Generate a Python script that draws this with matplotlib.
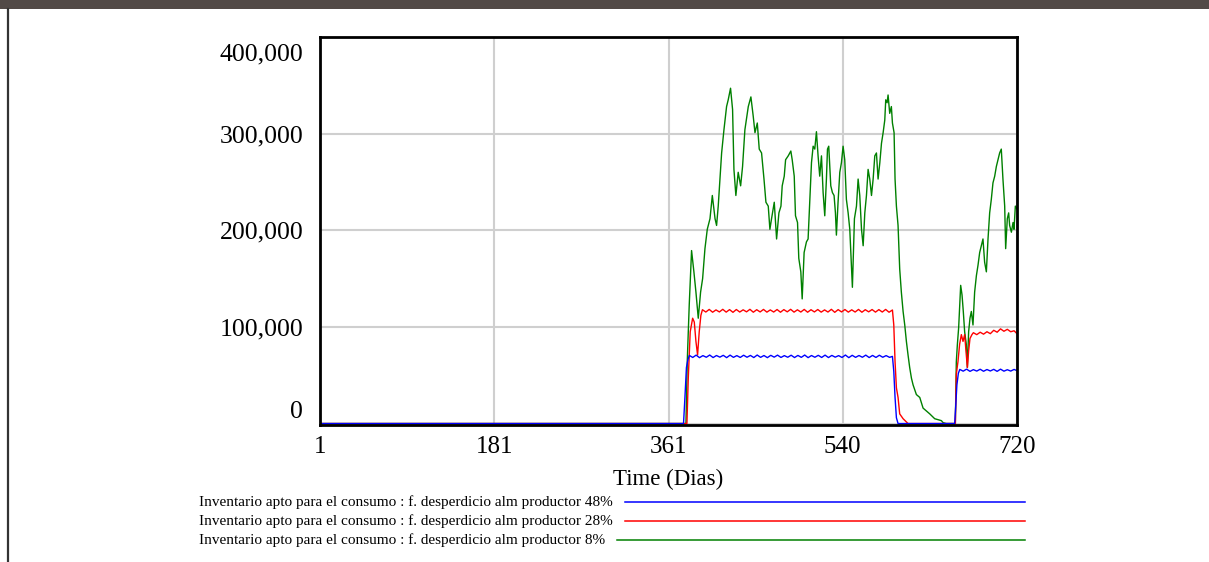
import numpy as np
import matplotlib
matplotlib.use("Agg")
import matplotlib.pyplot as plt
import matplotlib.transforms as mtransforms
from matplotlib.lines import Line2D
from matplotlib.patches import Rectangle

plt.rcParams['font.family'] = ['Liberation Serif', 'DejaVu Serif']

# --- data (day, units) ---
x_ticks = [1, 181, 361, 540, 720]
y_ticks = [0, 100000, 200000, 300000, 400000]
labels = ["Inventario apto para el consumo : f. desperdicio alm productor 48%",
          "Inventario apto para el consumo : f. desperdicio alm productor 28%",
          "Inventario apto para el consumo : f. desperdicio alm productor 8%"]
colors = ['#0000ff', '#ff0000', '#008000']

# 48% (blue)
blue_rise_days = [1, 376, 377.5, 379, 380.5]
blue_rise_vals = [0, 0, 28000, 58000, 66000]
blue_plat1 = [70500, 68400, 70800, 68200, 70300, 68600, 70900, 68300, 70400, 68700,
              70600, 68200, 70800, 68500, 70300, 68400, 70700, 68600, 70500, 68300,
              70900, 68500, 70400, 68200, 70600, 68700, 70800, 68400, 70300, 68600,
              70700, 68300, 70500, 68500, 70900, 68200, 70400, 68600, 70600, 68400,
              70800, 68300, 70500, 68700, 70300, 68400, 70900, 68200, 70600, 68500,
              70400, 68600, 70800, 68300, 70500, 68400, 70700, 68600, 70300, 68500]
blue_drop_days = [591.5, 592.9, 594.2, 595.6, 597.3, 655.7, 656.5, 658.0, 659.5]
blue_drop_vals = [69500, 54000, 27000, 6000, 0, 0, 13000, 40000, 52000]
blue_plat2 = [56000, 54200, 56300, 54000, 55800, 54300, 56200, 54100, 55900,
              54400, 56100, 54000, 56300, 54200, 55700, 54300, 56000, 54500]

# 28% (red)
red_rise_days = [1, 379.5, 380.9, 382.9, 385.4, 387.1, 388.8, 390.5, 392.2, 393.9]
red_rise_vals = [0, 0, 47000, 95000, 109000, 105000, 85000, 71000, 95000, 112000]
red_plat1 = [117800, 115400, 118100, 115200, 117600, 115500, 118200, 115300, 117900, 115100,
             118000, 115400, 117700, 115600, 118200, 115200, 117800, 115500, 118100, 115300,
             117600, 115400, 118000, 115200, 117900, 115600, 118200, 115300, 117700, 115400,
             118100, 115200, 117800, 115500, 118000, 115300, 117600, 115400, 118200, 115100,
             117900, 115500, 118000, 115300, 117700, 115400, 118100, 115200, 117800, 115600,
             118000, 115300, 117900, 115400, 118100, 115200, 117500]
red_drop_days = [592.9, 594.2, 595.6, 597.3, 599.0, 602.5, 607.6, 656.4, 657.4, 659.1,
                 660.8, 662.6, 664.3, 666.0, 667.7, 668.8, 670.1, 671.5, 673.5]
red_drop_vals = [102000, 64000, 37000, 27000, 10000, 5000, 0, 0, 51000, 64000,
                 82000, 92000, 85000, 92000, 71000, 58000, 75000, 88000, 92000]
red_plat2 = [94000, 92000, 94500, 92500, 95000, 93000, 96500, 94500, 98000, 95500,
             97500, 95000, 96000, 92500]

# 8% (green)
green_days = [1, 378.5, 379.9, 381.9, 384.3, 386.7, 388.8, 391.2, 393.6, 395.7, 398.1,
              400.5, 403.3, 405.7, 408.5, 410.1, 411.8, 413.6, 415.3, 417.7, 420.4,
              422.1, 424.5, 426.6, 428.0, 430.0, 432.4, 434.9, 436.9, 439.3, 442.8,
              445.5, 447.9, 449.7, 452.1, 454.1, 456.5, 459.0, 461.0, 463.4, 465.1,
              466.8, 469.6, 472.0, 474.4, 476.5, 477.8, 479.9, 481.3, 484.0, 486.7,
              488.1, 490.2, 491.5, 493.6, 494.9, 497.0, 498.4, 500.4, 502.8, 504.5,
              506.2, 508.0, 509.7, 511.4, 513.1, 514.8, 516.5, 518.3, 520.0, 521.7,
              523.4, 524.5, 525.8, 527.9, 529.6, 531.3, 532.7, 533.7, 535.4, 537.2,
              538.9, 540.6, 542.3, 544.0, 545.8, 547.5, 549.2, 550.2, 552.3, 554.4,
              556.1, 557.8, 559.6, 561.3, 563.0, 564.7, 566.4, 568.1, 569.9, 571.6,
              573.3, 575.0, 576.7, 578.5, 580.2, 581.9, 583.6, 584.6, 586.0, 587.0,
              588.7, 590.4, 591.5, 593.2, 594.2, 595.6, 597.3, 599.0, 600.7, 602.5,
              604.2, 605.9, 607.6, 609.3, 611.1, 612.8, 616.2, 619.7, 623.1, 626.5,
              630.0, 635.1, 638.6, 642.0, 643.7, 647.0, 656.4, 657.4, 658.5, 659.8,
              661.9, 663.3, 664.6, 666.0, 667.7, 668.8, 670.1, 671.5, 672.9, 674.6,
              676.3, 678.1, 679.8, 681.5, 683.2, 684.9, 686.6, 688.4, 690.1, 691.8,
              693.5, 695.2, 697.0, 698.7, 700.4, 702.1, 703.8, 705.5, 707.3, 708.3,
              710.0, 711.4, 712.4, 714.2, 715.9, 716.9, 718.3, 720.0]
green_vals = [0, 0, 66000, 123000, 179000, 157000, 136000, 109000, 136000, 150000, 181000,
              201000, 212000, 236000, 212000, 205000, 225000, 253000, 280000, 304000, 328000,
              335000, 347000, 325000, 263000, 236000, 260000, 246000, 266000, 304000, 328000,
              338000, 318000, 301000, 311000, 284000, 280000, 253000, 229000, 225000, 201000,
              212000, 229000, 191000, 218000, 225000, 246000, 256000, 273000, 277000, 282000,
              273000, 256000, 215000, 208000, 171000, 157000, 129000, 177000, 188000, 191000,
              229000, 270000, 287000, 284000, 302000, 277000, 256000, 277000, 239000, 215000,
              253000, 284000, 287000, 246000, 239000, 236000, 218000, 195000, 229000, 260000,
              270000, 287000, 273000, 232000, 218000, 201000, 164000, 141000, 212000, 225000,
              253000, 236000, 201000, 184000, 218000, 236000, 263000, 253000, 236000, 253000,
              277000, 280000, 253000, 270000, 290000, 301000, 314000, 335000, 332000, 340000,
              321000, 328000, 311000, 301000, 253000, 225000, 205000, 160000, 136000, 116000,
              102000, 85000, 71000, 58000, 47000, 40000, 30000, 27000, 16000, 13000,
              10000, 5000, 4000, 3000, 1000, 0, 0, 64000, 82000, 99000,
              143000, 133000, 116000, 95000, 82000, 58000, 95000, 109000, 116000, 102000,
              136000, 153000, 164000, 177000, 184000, 191000, 167000, 157000, 191000, 218000,
              232000, 249000, 256000, 266000, 273000, 280000, 284000, 253000, 225000, 181000,
              212000, 218000, 205000, 198000, 208000, 201000, 225000, 222000]

blue_days = np.concatenate([blue_rise_days, 382 + 3.5 * np.arange(len(blue_plat1)),
                            blue_drop_days, 661 + 3.5 * np.arange(len(blue_plat2))])
blue_vals = np.concatenate([blue_rise_vals, blue_plat1, blue_drop_vals, blue_plat2])
red_days = np.concatenate([red_rise_days, 395.5 + 3.5 * np.arange(len(red_plat1)),
                           red_drop_days, 675 + 3.5 * np.arange(len(red_plat2))])
red_vals = np.concatenate([red_rise_vals, red_plat1, red_drop_vals, red_plat2])

W, H = 1209, 562
fig = plt.figure(figsize=(W / 100, H / 100), dpi=100)
ax = fig.add_axes([320 / W, 1 - 425 / H, 697 / W, 388 / H])

ax.plot(green_days, green_vals, color=colors[2], lw=1.0)
ax.plot(red_days, red_vals, color=colors[1], lw=1.0)
ax.plot(blue_days, blue_vals, color=colors[0], lw=1.0)

ax.set_xlim(1, 720)
ax.set_ylim(-1500, 400000)
ax.set_xticks(x_ticks)
ax.set_xticklabels([str(t) for t in x_ticks])
ax.set_yticks(y_ticks)
ax.set_yticklabels(['{:,}'.format(t) for t in y_ticks])
ax.grid(True, color='#cfcfcf', lw=1.5)
ax.set_axisbelow(True)
ax.tick_params(axis='y', length=0, pad=12, labelsize=18.5)
ax.tick_params(axis='x', length=0, pad=8, labelsize=18)
for s in ax.spines.values():
    s.set_linewidth(2)
    s.set_color('black')

ylabs = ax.get_yticklabels()
ylabs[0].set_transform(ylabs[0].get_transform() + mtransforms.ScaledTranslation(0, 10 / 72, fig.dpi_scale_trans))
ylabs[-1].set_transform(ylabs[-1].get_transform() + mtransforms.ScaledTranslation(0, -11 / 72, fig.dpi_scale_trans))

ax.set_xlabel('Time (Dias)', fontsize=16.5, labelpad=8)

# legend: text on the left, line runs from after the text to a fixed end
fig.canvas.draw()
renderer = fig.canvas.get_renderer()
row_y = [502, 521, 540]
for lab, col, yy in zip(labels, colors, row_y):
    t = fig.text(199 / W, 1 - yy / H, lab, fontsize=11, ha='left', va='center')
    bb = t.get_window_extent(renderer)
    fig.add_artist(Line2D([(bb.x1 + 12) / W, 1025 / W], [1 - yy / H, 1 - yy / H],
                          transform=fig.transFigure, color=col, lw=1.1))

# window frame bits around the chart
fig.add_artist(Rectangle((0, 1 - 9 / H), 1, 9 / H, transform=fig.transFigure,
                         color='#524a47', lw=0))
fig.add_artist(Line2D([8 / W, 8 / W], [0, 1 - 9 / H], transform=fig.transFigure,
                      color='#333333', lw=1.6))

plt.savefig('out.png', dpi=100)
